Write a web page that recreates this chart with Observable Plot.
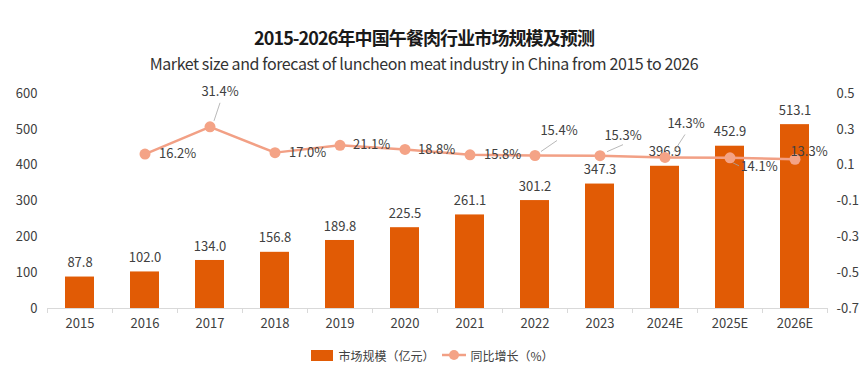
<!DOCTYPE html>
<html><head><meta charset="utf-8">
<script src="https://cdn.jsdelivr.net/npm/d3@7"></script>
<script src="https://cdn.jsdelivr.net/npm/@observablehq/plot@0.6"></script>
<style>
body{margin:0;background:#fff;font-family:"Noto Sans CJK SC","Noto Sans",sans-serif;color:#333;width:865px;overflow:hidden}
#title{margin-top:25px;height:24px;line-height:24px;text-align:center;font-size:18px;letter-spacing:-0.9px;font-weight:bold;color:#1a1a1a;padding-right:17px}
#subtitle{margin-top:3px;height:22px;line-height:22px;text-align:center;font-size:16px;color:#333;letter-spacing:-0.4px;padding-right:17px}
#chart svg{display:block;margin-top:2px}
#legend{margin-top:14px;height:14px;display:flex;justify-content:center;align-items:center;font-size:12px;color:#404040}
#legend .it{display:flex;align-items:center}
</style></head>
<body>
<div id="title">2015-2026年中国午餐肉行业市场规模及预测</div>
<div id="subtitle">Market size and forecast of luncheon meat industry in China from 2015 to 2026</div>
<div id="chart"></div>
<div id="legend">
  <div class="it"><svg width="22" height="11" style="margin-right:5px"><rect width="22" height="11" fill="#E15B05"/></svg><span>市场规模（亿元）</span></div>
  <div class="it" style="margin-left:8px"><svg width="24" height="12" style="margin-right:4px"><line x1="0" x2="24" y1="6" y2="6" stroke="#F2A085" stroke-width="2.5"/><circle cx="12" cy="6" r="5" fill="#F4A386"/></svg><span>同比增长（%）</span></div>
</div>
<script>
// ---- data ----
const years = ["2015","2016","2017","2018","2019","2020","2021","2022","2023","2024E","2025E","2026E"];
const marketSize = [87.8,102.0,134.0,156.8,189.8,225.5,261.1,301.2,347.3,396.9,452.9,513.1];
const growthPct = [null,16.2,31.4,17.0,21.1,18.8,15.8,15.4,15.3,14.3,14.1,13.3];
const leftTicks = [0,100,200,300,400,500,600];
const rightTicks = [-0.7,-0.5,-0.3,-0.1,0.1,0.3,0.5];

// ---- layout ----
const W = 865, H = 258, mL = 47, mR = 38, mT = 17, mB = 26;
const xPx = (W - mL - mR) / years.length;
const yPx = (H - mT - mB) / 600;
const barColor = "#E15B05", lineColor = "#F2A085", dotColor = "#F4A386", textColor = "#404040";
// label placement for growth labels: [dx, dy, anchor]
const gLab = {1:[14,0,"start"],2:[10,-35,"middle"],3:[14,0,"start"],4:[13,0,"start"],5:[13,0,"start"],6:[14,0,"start"],
  7:[24,-25,"middle"],8:[23,-20,"middle"],9:[21,-34,"middle"],10:[29,9,"middle"],11:[14,-7,"middle"]};
// leader lines in px: [x1,y1,x2,y2]
const leaders = {2:[4,-6,10,-24],7:[6,-4,22,-15],8:[7,-4,23,-11],9:[9,-6,20,-23],10:[3,5,9,8]};

const g2y = d3.scaleLinear([-0.7, 0.5], [0, 600]);
const rows = years.map((y, i) => ({i, year: y, m: marketSize[i], g: growthPct[i]}));
const grows = rows.filter(d => d.g != null);
const gy = d => g2y(d.g / 100);

const marks = [
  Plot.ruleY([0], {stroke: "#d9d9d9"}),
  Plot.axisX({ticks: d3.range(years.length + 1), tickFormat: () => "", tickSize: 5, stroke: "#d9d9d9"}),
  Plot.axisX({ticks: years.map((_, i) => i + 0.5), tickFormat: v => years[Math.floor(v)], tickSize: 0, tickPadding: 10, fontSize: 13, fill: textColor}),
  Plot.axisY({anchor: "left", ticks: leftTicks, tickSize: 0, tickPadding: 10, fontSize: 13, fill: textColor, label: null}),
  Plot.axisY({anchor: "right", ticks: rightTicks.map(v => g2y(v)), tickFormat: v => (Math.round(g2y.invert(v) * 10) / 10).toFixed(1), tickSize: 0, tickPadding: 9, fontSize: 13, fill: textColor, label: null}),
  Plot.rectY(rows, {x1: d => d.i, x2: d => d.i + 1, y: "m", fill: barColor, insetLeft: 18, insetRight: 18}),
  Plot.text(rows, {x: d => d.i + 0.5, y: "m", text: d => d.m.toFixed(1), dy: -14, fill: textColor, fontSize: 13}),
  Plot.line(grows, {x: d => d.i + 0.5, y: gy, stroke: lineColor, strokeWidth: 2.5}),
  Plot.link(grows.filter(d => leaders[d.i]), {
    x1: d => d.i + 0.5 + leaders[d.i][0] / xPx, y1: d => gy(d) - leaders[d.i][1] / yPx,
    x2: d => d.i + 0.5 + leaders[d.i][2] / xPx, y2: d => gy(d) - leaders[d.i][3] / yPx,
    stroke: "#a6a6a6", strokeWidth: 0.8}),
  Plot.dot(grows, {x: d => d.i + 0.5, y: gy, r: 5.5, fill: dotColor}),
  ...grows.map(d => Plot.text([d], {x: d.i + 0.5, y: gy, text: d => d.g.toFixed(1) + "%", dx: gLab[d.i][0], dy: gLab[d.i][1], textAnchor: gLab[d.i][2], fill: textColor, fontSize: 13}))
];

const chart = Plot.plot({
  width: W, height: H, marginLeft: mL, marginRight: mR, marginTop: mT, marginBottom: mB,
  x: {type: "linear", domain: [0, years.length], axis: null},
  y: {domain: [0, 600], axis: null},
  style: {fontFamily: '"Noto Sans CJK SC","Noto Sans",sans-serif', fontSize: "13px", color: textColor, background: "#fff", overflow: "visible"},
  marks
});
document.getElementById("chart").appendChild(chart);
</script>
</body></html>
